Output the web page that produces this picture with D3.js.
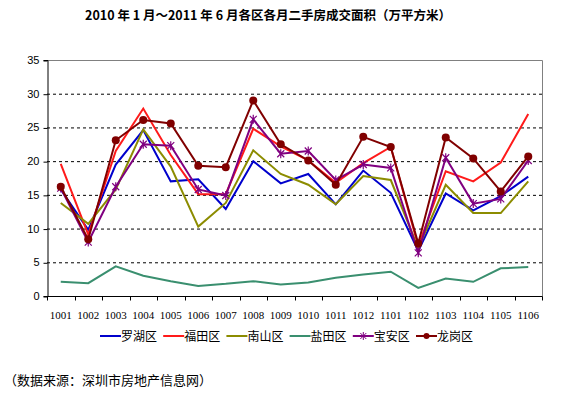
<!DOCTYPE html>
<html>
<head>
<meta charset="utf-8">
<script src="https://cdn.jsdelivr.net/npm/d3@7"></script>
<style>
  body { margin: 0; background: #fff; }
  svg text { font-family: "Liberation Sans", Arial, sans-serif; }
  .cjk { font-family: "Noto Sans CJK SC", sans-serif; }
</style>
</head>
<body>
<div id="chart"></div>
<script>
const months = ["1001","1002","1003","1004","1005","1006","1007","1008","1009","1010","1011","1012","1101","1102","1103","1104","1105","1106"];
const yTicks = [0, 5, 10, 15, 20, 25, 30, 35];

const luohu   = [15.8, 9.8, 19.5, 24.6, 17.0, 17.3, 12.9, 20.0, 16.7, 18.1, 13.6, 18.6, 15.3, 6.7, 15.2, 12.7, 14.8, 17.7];
const futian  = [19.6, 9.1, 21.5, 27.8, 20.9, 15.1, 15.1, 24.8, 22.2, 20.1, 16.8, 19.7, 22.1, 7.4, 18.5, 17.0, 19.8, 27.0];
const nanshan = [13.8, 10.7, 15.8, 24.7, 19.2, 10.3, 13.8, 21.6, 18.1, 16.5, 13.6, 17.8, 17.2, 7.1, 16.5, 12.3, 12.3, 17.0];
const yantian = [2.1, 1.9, 4.4, 3.0, 2.2, 1.5, 1.8, 2.2, 1.7, 2.0, 2.7, 3.2, 3.6, 1.2, 2.6, 2.1, 4.1, 4.3];
const baoan   = [16.0, 8.0, 16.2, 22.5, 22.3, 15.8, 14.9, 26.2, 21.1, 21.5, 17.2, 19.5, 19.0, 6.4, 20.5, 13.7, 14.4, 20.1];
const longgang = [16.2, 8.4, 23.1, 26.1, 25.6, 19.3, 19.1, 29.0, 22.5, 20.1, 16.5, 23.6, 22.1, 7.8, 23.5, 20.4, 15.5, 20.7];

const seriesNames = ["罗湖区", "福田区", "南山区", "盐田区", "宝安区", "龙岗区"];
const seriesColors = ["#0000CC", "#FF1A1A", "#8C8C00", "#3A8F6F", "#800080", "#800000"];
const seriesMarks = ["none", "none", "none", "none", "star", "dot"];
const seriesValues = [luohu, futian, nanshan, yantian, baoan, longgang];

const width = 576, height = 394;
const margin = { top: 60, right: 34, bottom: 98, left: 47 };
const innerW = width - margin.left - margin.right;
const innerH = height - margin.top - margin.bottom;

const svg = d3.select("#chart")
  .append("svg")
  .attr("width", width)
  .attr("height", height);

// Title
svg.append("text")
  .attr("class", "cjk")
  .attr("x", 268)
  .attr("y", 20)
  .attr("text-anchor", "middle")
  .style("font-size", "12.5px")
  .style("font-weight", "bold")
  .text("2010 年 1 月～2011 年 6 月各区各月二手房成交面积（万平方米）");

const g = svg.append("g")
  .attr("transform", "translate(" + margin.left + "," + margin.top + ")");

// Scales
const x = d3.scaleBand().domain(months).range([0, innerW]);
const y = d3.scaleLinear().domain([0, 35]).range([innerH, 0]);

// Grid lines
g.append("g")
  .selectAll("line")
  .data(yTicks.filter(d => d > 0 && d < 35))
  .enter()
  .append("line")
  .attr("x1", 0)
  .attr("x2", innerW)
  .attr("y1", d => y(d) + 0.5)
  .attr("y2", d => y(d) + 0.5)
  .attr("stroke", "#000")
  .attr("stroke-dasharray", "3,3");

// Plot frame (top/right gray)
g.append("path")
  .attr("d", "M0.5,0.5H" + (innerW + 0.5) + "V" + (innerH + 0.5))
  .attr("fill", "none")
  .attr("stroke", "#808080");

// Y axis
const yAxis = g.append("g")
  .attr("transform", "translate(0.5,0)")
  .call(d3.axisLeft(y).tickValues(yTicks).tickSize(4).tickPadding(4));
yAxis.select(".domain").attr("stroke", "#000");
yAxis.selectAll("text").style("font-size", "11px").attr("fill", "#000");
yAxis.selectAll(".tick line").attr("transform", "translate(0,0.5)");

// X axis: ticks at band boundaries
const xAxis = g.append("g")
  .attr("transform", "translate(0," + (innerH + 0.5) + ")");
xAxis.append("line")
  .attr("x1", 0).attr("x2", innerW + 0.5)
  .attr("stroke", "#000");
xAxis.selectAll("line.tk")
  .data(months.concat(["end"]))
  .enter()
  .append("line")
  .attr("class", "tk")
  .attr("x1", (d, i) => Math.round(i * x.bandwidth()) + 0.5)
  .attr("x2", (d, i) => Math.round(i * x.bandwidth()) + 0.5)
  .attr("y1", 0)
  .attr("y2", 4)
  .attr("stroke", "#000");
xAxis.selectAll("text")
  .data(months)
  .enter()
  .append("text")
  .attr("x", d => x(d) + x.bandwidth() / 2)
  .attr("y", 22)
  .attr("text-anchor", "middle")
  .style("font-size", "11px")
  .style("font-family", "'Liberation Serif', serif")
  .text(d => d);

// Lines
const line = d3.line()
  .x((d, i) => x(months[i]) + x.bandwidth() / 2)
  .y(d => y(d));

seriesValues.forEach(function (vals, k) {
  g.append("path")
    .datum(vals)
    .attr("fill", "none")
    .attr("stroke", seriesColors[k])
    .attr("stroke-width", 2)
    .attr("stroke-linejoin", "miter")
    .attr("d", line);

  if (seriesMarks[k] === "dot") {
    g.append("g")
      .selectAll("circle")
      .data(vals)
      .enter()
      .append("circle")
      .attr("cx", (d, i) => x(months[i]) + x.bandwidth() / 2)
      .attr("cy", d => y(d))
      .attr("r", 4)
      .attr("fill", seriesColors[k]);
  } else if (seriesMarks[k] === "star") {
    g.append("g")
      .selectAll("path")
      .data(vals)
      .enter()
      .append("path")
      .attr("transform", (d, i) => "translate(" + (x(months[i]) + x.bandwidth() / 2) + "," + y(d) + ")")
      .attr("d", "M-3.5,-3.5L3.5,3.5M-3.5,3.5L3.5,-3.5M0,-4.5V4.5")
      .attr("stroke", seriesColors[k])
      .attr("stroke-width", 1.2);
  }
});

// Legend
const legend = svg.append("g")
  .attr("transform", "translate(100,336)");
seriesNames.forEach(function (name, k) {
  const item = legend.append("g").attr("transform", "translate(" + (k * 63.2) + ",0)");
  item.append("line")
    .attr("x1", 0).attr("x2", 21)
    .attr("y1", 0).attr("y2", 0)
    .attr("stroke", seriesColors[k])
    .attr("stroke-width", 2);
  if (seriesMarks[k] === "dot") {
    item.append("circle").attr("cx", 10.5).attr("cy", 0).attr("r", 3).attr("fill", seriesColors[k]);
  } else if (seriesMarks[k] === "star") {
    item.append("path")
      .attr("transform", "translate(10.5,0)")
      .attr("d", "M-3,-3L3,3M-3,3L3,-3M0,-4V4")
      .attr("stroke", seriesColors[k]);
  }
  item.append("text")
    .attr("class", "cjk")
    .attr("x", 21)
    .attr("y", 4.5)
    .style("font-size", "12px")
    .text(name);
});

// Source note
svg.append("text")
  .attr("class", "cjk")
  .attr("x", 4)
  .attr("y", 385)
  .style("font-size", "13px")
  .text("（数据来源：深圳市房地产信息网）");
</script>
</body>
</html>
